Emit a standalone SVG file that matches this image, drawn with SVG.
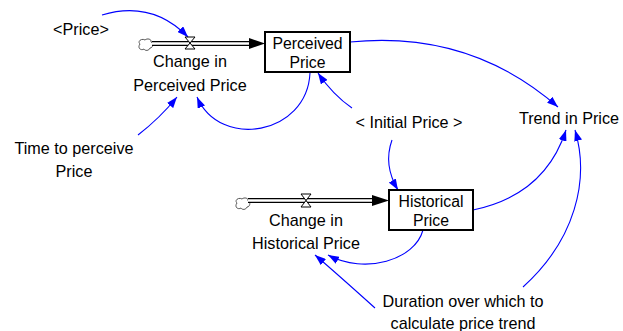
<svg xmlns="http://www.w3.org/2000/svg" width="623" height="331" viewBox="0 0 623 331">
<defs>
<style>
text{font-family:"Liberation Sans",Arial,sans-serif;font-size:16.2px;fill:#000;text-anchor:middle}
.bt{font-size:15.8px}
.link{fill:none;stroke:#0000ff;stroke-width:1.1;marker-end:url(#ah)}
.box{fill:#fff;stroke:#000;stroke-width:2}
.pipeo{stroke:#000;stroke-width:5}
.pipei{stroke:#fff;stroke-width:2.4}
.valve{fill:#fff;stroke:#000;stroke-width:1}
.cloud{fill:#fff;stroke:#555;stroke-width:1}
</style>
<marker id="ah" markerUnits="userSpaceOnUse" markerWidth="11" markerHeight="8" refX="11" refY="4" orient="auto">
<path d="M0,0 L11,4 L0,8 Z" fill="#0000ff"/>
</marker>
</defs>
<g id="connectors">
<path class="link" d="M102,15 Q152,0 188,37"/>
<path class="link" d="M138,135 Q160,118 177,97"/>
<path class="link" d="M310,73 C307,135 220,150 197,97"/>
<path class="link" d="M352,108 Q333,95 318,73"/>
<path class="link" d="M350,42 Q470,30 558,107"/>
<path class="link" d="M392,140 Q383,165 398,190"/>
<path class="link" d="M423,230 C415,260 365,275 328,255"/>
<path class="link" d="M375,308 Q335,272 315,255"/>
<path class="link" d="M473,210 Q545,195 566,130"/>
<path class="link" d="M523,287 C575,240 590,180 575,130"/>
</g>
<g id="flow-perceived">
<path class="cloud" d="M140,44 c-3,-3 2,-6 5,-4 c2,-2 7,-1 6,2 c3,1 2,6 -1,6 c-1,3 -5,3 -6,1 c-3,2 -7,-1 -4,-5 z"/>
<line class="pipeo" x1="152" y1="43.5" x2="250" y2="43.5"/>
<line class="pipei" x1="152" y1="43.5" x2="250" y2="43.5"/>
<polygon points="249,38 265,43.5 249,49" fill="#000"/>
<path class="valve" d="M185,37 L195,37 L185,49 L195,49 Z"/>
</g>
<g id="flow-historical">
<path class="cloud" d="M237,203 c-3,-3 2,-6 5,-4 c2,-2 7,-1 6,2 c3,1 2,6 -1,6 c-1,3 -5,3 -6,1 c-3,2 -7,-1 -4,-5 z"/>
<line class="pipeo" x1="248" y1="200.5" x2="373" y2="200.5"/>
<line class="pipei" x1="248" y1="200.5" x2="373" y2="200.5"/>
<polygon points="372,195 389,200.5 372,206" fill="#000"/>
<path class="valve" d="M301,194 L311,194 L301,207 L311,207 Z"/>
</g>
<g id="price"><text x="81" y="35">&lt;Price&gt;</text></g>
<g id="change-perceived"><text x="190" y="67">Change in</text><text x="190" y="91">Perceived Price</text></g>
<g id="perceived-price"><rect class="box" x="265" y="32" width="85" height="40"/><text class="bt" x="307.5" y="49">Perceived</text><text class="bt" x="307.5" y="67.5">Price</text></g>
<g id="initial-price"><text x="409" y="128">&lt; Initial Price &gt;</text></g>
<g id="trend"><text x="569" y="124">Trend in Price</text></g>
<g id="time-perceive"><text x="74" y="154">Time to perceive</text><text x="74" y="177">Price</text></g>
<g id="change-historical"><text x="306" y="226">Change in</text><text x="306" y="249">Historical Price</text></g>
<g id="historical-price"><rect class="box" x="389" y="190" width="84" height="40"/><text class="bt" x="431" y="207">Historical</text><text class="bt" x="431" y="225.5">Price</text></g>
<g id="duration"><text x="463" y="307">Duration over which to</text><text x="463" y="329">calculate price trend</text></g>
</svg>
